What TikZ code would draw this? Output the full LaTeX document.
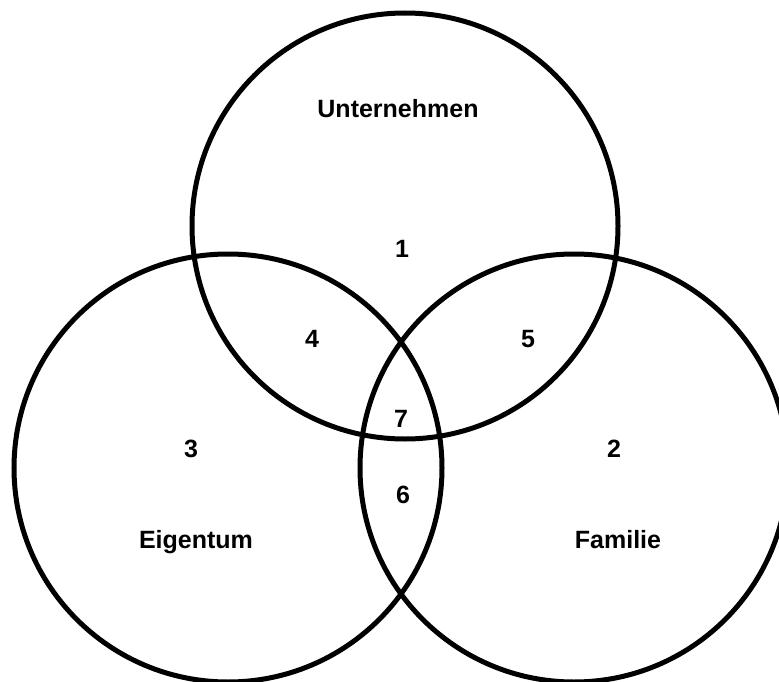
\documentclass[tikz,border=0pt]{standalone}
\usepackage{fontspec}
\setmainfont{Liberation Sans}
\begin{document}
\begin{tikzpicture}[x=1pt,y=-1pt,
  ring/.style={draw=black,line width=5pt},
  lbl/.style={font=\fontsize{25}{29}\selectfont\bfseries,anchor=base,inner sep=0pt}]
\useasboundingbox (0,0) rectangle (779,682);
\clip (0,0) rectangle (779,682);
\fill[white] (0,0) rectangle (779,682);
\draw[ring] (405,226) circle[radius=213];
\draw[ring] (228,468) circle[radius=214];
\draw[ring] (574,468) circle[radius=214];
\node[lbl] (u) at (398,118) {Unternehmen};
\node[lbl] (n1) at (402,257) {1};
\node[lbl] (n4) at (312,347) {4};
\node[lbl] (n5) at (528,347) {5};
\node[lbl] (n7) at (401,427) {7};
\node[lbl] (n3) at (191,457) {3};
\node[lbl] (n2) at (614,457) {2};
\node[lbl] (n6) at (403,503) {6};
\node[lbl] (e) at (196,548) {Eigentum};
\node[lbl] (f) at (618,548) {Familie};
\end{tikzpicture}
\end{document}
